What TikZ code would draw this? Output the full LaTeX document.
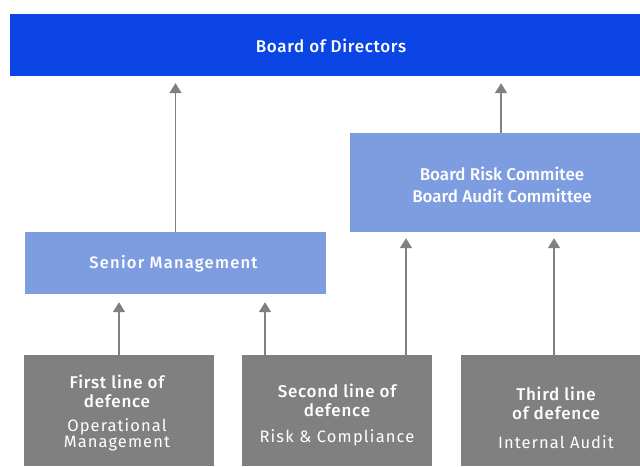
\documentclass[tikz,border=0pt]{standalone}
\usepackage{fontspec}
\setmainfont{Fira Sans}[BoldFont={Fira Sans Medium}]
\usetikzlibrary{arrows.meta}
\definecolor{boardblue}{HTML}{0B45E5}
\definecolor{lightblue}{HTML}{7E9DE0}
\definecolor{boxgray}{HTML}{808080}
\begin{document}
\begin{tikzpicture}[x=1pt,y=1pt,
  box/.style={rectangle,inner sep=0pt,text=white,align=center},
  arr/.style={draw=boxgray,line width=1.6pt,-{Triangle[width=12pt,length=10pt]}},
  title/.style={font=\fontsize{17}{19}\selectfont\bfseries\addfontfeatures{LetterSpace=4.5}},
  sub/.style={font=\fontsize{16.5}{16}\selectfont\addfontfeatures{LetterSpace=6.5}},
  ]
\useasboundingbox (0,0) rectangle (640,466);
\node[box,fill=boardblue,minimum width=630pt,minimum height=62pt] (board) at (325,421) {};
\node[box,font=\fontsize{17}{18}\selectfont\bfseries\addfontfeatures{LetterSpace=4}] (boardt) at (331,420) {Board of Directors};
\node[box,fill=lightblue,minimum width=290pt,minimum height=99pt] (risk) at (495,283.5) {};
\node[box,font=\fontsize{17}{22}\selectfont\bfseries] (riskt) at (502,281) {Board Risk Commitee\\Board Audit Committee};
\node[box,fill=lightblue,minimum width=301pt,minimum height=62pt] (senior) at (175.5,203) {};
\node[box,font=\fontsize{16.5}{18}\selectfont\bfseries\addfontfeatures{LetterSpace=7.5}] (seniort) at (173.5,202) {Senior Management};
\node[box,fill=boxgray,minimum width=190pt,minimum height=111pt] (first) at (119,55.5) {};
\node[box,fill=boxgray,minimum width=190pt,minimum height=111pt] (second) at (337,55.5) {};
\node[box,fill=boxgray,minimum width=179pt,minimum height=111pt] (third) at (550.5,55.5) {};
\node[box,title] (firstt) at (117,75) {First line of\\defence};
\node[box,sub] (firsts) at (117,31) {Operational\\Management};
\node[box,title] (secondt) at (337,66) {Second line of\\defence};
\node[box,sub,font=\fontsize{16.5}{16}\selectfont\addfontfeatures{LetterSpace=7}] (seconds) at (337,28) {Risk \& Compliance};
\node[box,title] (thirdt) at (556,63) {Third line\\of defence};
\node[box,sub] (thirds) at (556,24) {Internal Audit};
\draw[arr,shorten >=7pt] (senior.north) -- (senior.north |- board.south);
\draw[arr,shorten >=7pt] ([xshift=6pt]risk.north) -- ([xshift=6pt]risk.north |- board.south);
\draw[arr,shorten >=8pt] (first.north) -- (first.north |- senior.south);
\draw[arr,shorten >=8pt] ([xshift=-72pt]second.north) -- ([xshift=-72pt]second.north |- senior.south);
\draw[arr,shorten >=6pt] ([xshift=69pt]second.north) -- ([xshift=69pt]second.north |- risk.south);
\draw[arr,shorten >=6pt] ([xshift=3.5pt]third.north) -- ([xshift=3.5pt]third.north |- risk.south);
\end{tikzpicture}
\end{document}
